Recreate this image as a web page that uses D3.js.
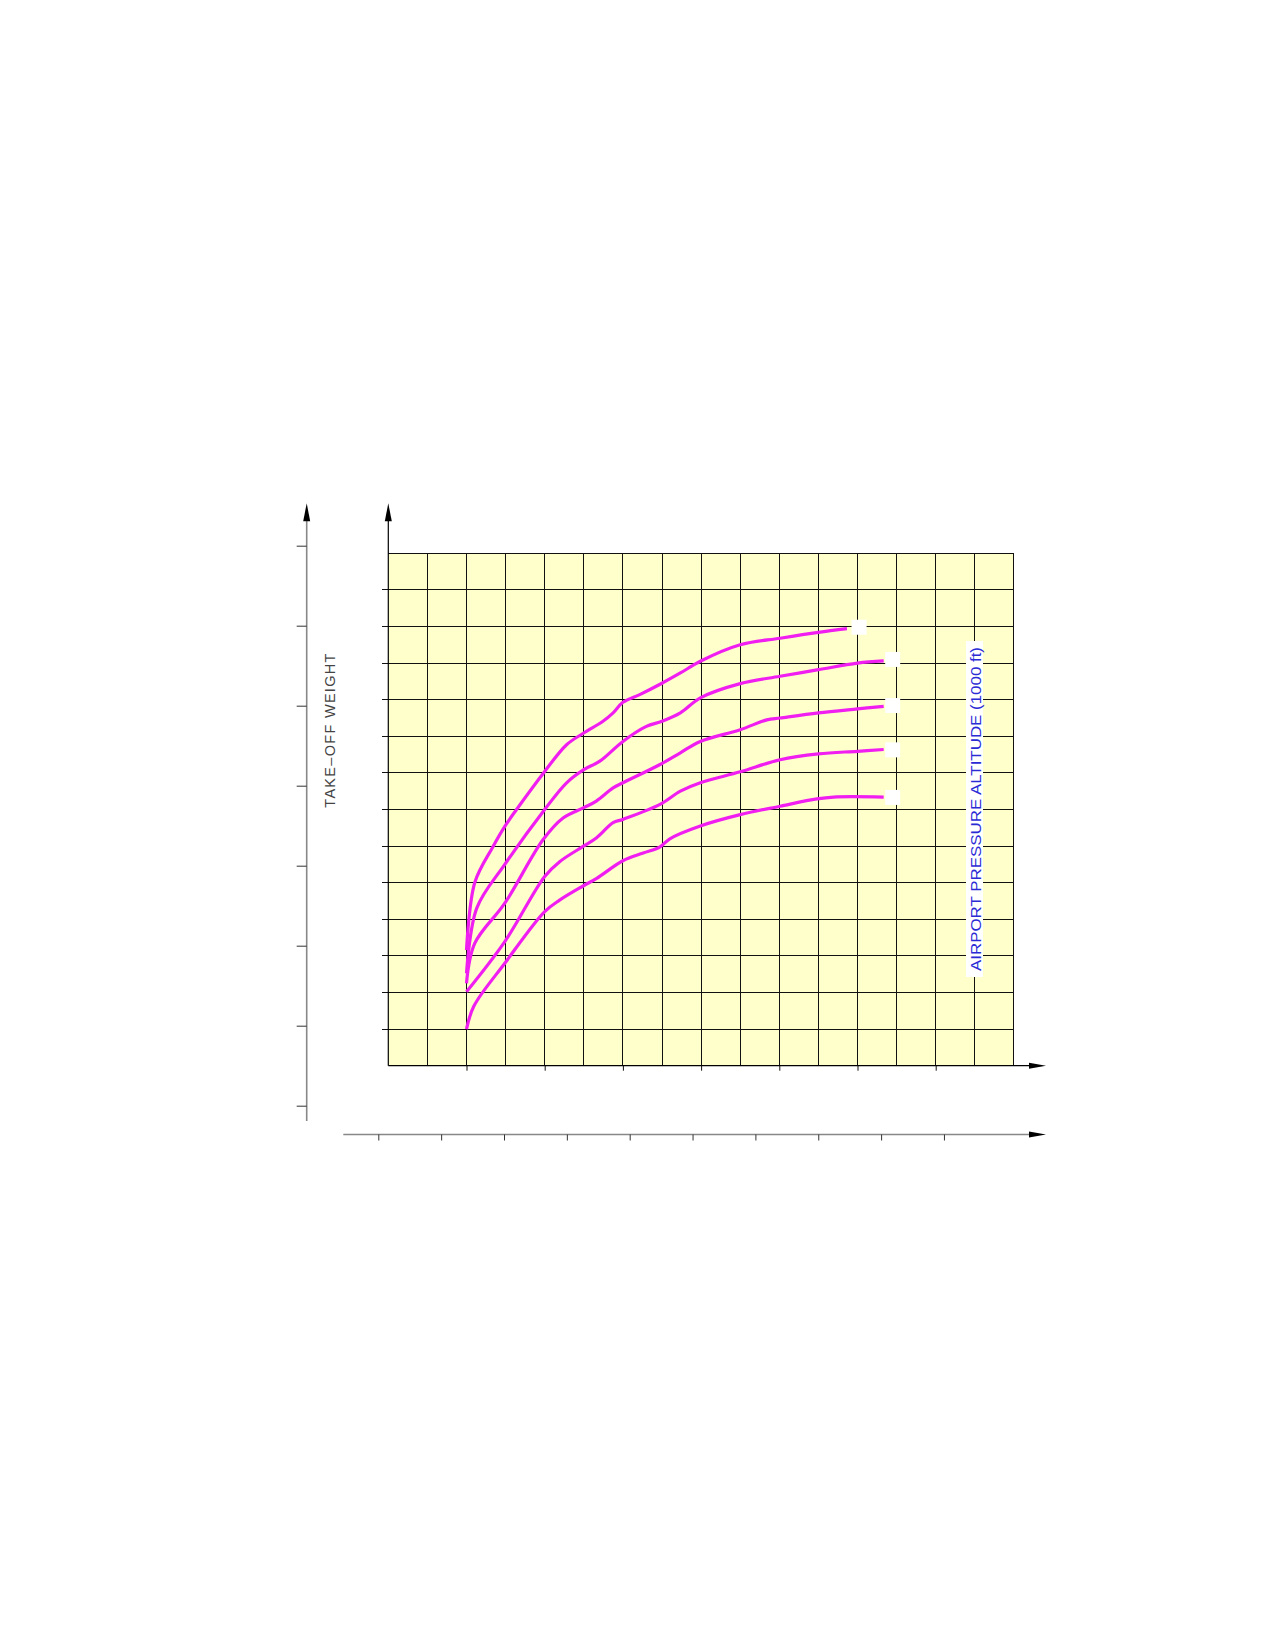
<!DOCTYPE html>
<html>
<head>
<meta charset="utf-8">
<script src="https://cdn.jsdelivr.net/npm/d3@7"></script>
<style>
  body { margin: 0; background: #fff; }
  svg { display: block; }
</style>
</head>
<body>
<script>
// curves, in grid units (x = columns from left, y = rows from bottom)
const altitude0 = [[2.0,3.16],[2.21,5.0],[2.68,5.99],[2.98,6.54],[3.28,7.0],[4.0,8.04],[4.56,8.77],[5.0,9.09],[5.49,9.41],[5.75,9.64],[6.0,9.93],[6.43,10.14],[7.0,10.45],[7.47,10.73],[7.98,11.05],[9.0,11.5],[10.02,11.68],[11.0,11.84],[11.73,11.94]];
const altitude2 = [[2.0,2.52],[2.26,4.3],[2.98,5.5],[4.0,7.0],[4.56,7.73],[5.0,8.09],[5.41,8.32],[6.0,8.86],[6.6,9.27],[7.0,9.41],[7.47,9.64],[7.98,10.05],[9.0,10.44],[10.02,10.64],[11.0,10.82],[12.0,11.0],[12.67,11.06]];
const altitude4 = [[2.0,2.25],[2.21,3.34],[2.98,4.44],[3.96,6.18],[4.47,6.77],[5.0,7.05],[5.32,7.23],[5.75,7.59],[6.0,7.73],[6.95,8.23],[7.47,8.55],[7.98,8.86],[9.0,9.18],[9.68,9.45],[10.02,9.5],[11.0,9.64],[12.0,9.75],[12.67,9.82]];
const altitude6 = [[2.0,2.02],[2.98,3.39],[4.0,5.17],[4.39,5.58],[4.98,5.99],[5.32,6.22],[5.75,6.64],[6.0,6.73],[6.95,7.14],[7.47,7.5],[7.98,7.73],[9.0,8.03],[10.02,8.36],[11.0,8.52],[12.0,8.59],[12.67,8.64]];
const altitude8 = [[2.0,1.0],[2.19,1.63],[2.98,2.8],[4.0,4.21],[4.39,4.53],[4.98,4.91],[5.33,5.12],[6.0,5.6],[6.52,5.81],[6.94,5.97],[7.2,6.2],[7.98,6.55],[9.0,6.86],[10.02,7.09],[10.96,7.29],[11.39,7.34],[12.67,7.34]];
const curves = [altitude0, altitude2, altitude4, altitude6, altitude8];

// blank end markers (label boxes) at the end of each curve
const markerX = [12.04, 12.9, 12.9, 12.9, 12.9];
const markerY = [11.98, 11.1, 9.84, 8.63, 7.33];

const gridCols = 16;
const gridRows = 14;
const bottomTicks = [2, 4, 6, 8, 10, 12, 14];
const weightTicks = [1, 2, 3, 4, 5, 6, 7, 8];
const lowerTicks = [1, 2, 3, 4, 5, 6, 7, 8, 9, 10];
const weightLabel = "TAKE–OFF WEIGHT";
const altLabel = "AIRPORT PRESSURE ALTITUDE (1000 ft)";

const svg = d3.select("body").append("svg")
  .attr("width", 1275).attr("height", 1645);

const x = d3.scaleLinear().domain([0, gridCols]).range([388.3, 1013.9]);
const y = d3.scaleLinear().domain([0, gridRows]).range([1065.7, 553.3]);
const yOuter = d3.scaleLinear().domain([0, 8]).range([1185.7, 545.7]);
const xLower = d3.scaleLinear().domain([0, 10]).range([315.45, 943.95]);

function arrowUp(g, cx, tip) {
  g.append("path").attr("d", `M${cx},${tip} L${cx-3.5},${tip+18} L${cx+3.5},${tip+18} Z`).attr("fill", "#000");
}
function arrowRight(g, tip, cy) {
  g.append("path").attr("d", `M${tip},${cy} L${tip-17},${cy-3} L${tip-17},${cy+3} Z`).attr("fill", "#000");
}

// grid background
svg.append("rect")
  .attr("x", x(0)).attr("y", y(gridRows))
  .attr("width", x(gridCols) - x(0)).attr("height", y(0) - y(gridRows))
  .attr("fill", "#ffffcc");

// grid lines
const grid = svg.append("g").attr("stroke", "#111").attr("stroke-width", 1).attr("shape-rendering", "crispEdges");
grid.selectAll(".v").data(d3.range(1, gridCols + 1)).enter().append("line")
  .attr("x1", d => x(d)).attr("x2", d => x(d))
  .attr("y1", y(0)).attr("y2", y(gridRows));
grid.selectAll(".h").data(d3.range(1, gridRows + 1)).enter().append("line")
  .attr("x1", d => d == gridRows ? x(0) : x(0) - 6).attr("x2", x(gridCols))
  .attr("y1", d => y(d)).attr("y2", d => y(d));

// bottom ticks under the grid
svg.append("g")
  .attr("transform", `translate(0,${y(0)})`)
  .call(d3.axisBottom(x).tickValues(bottomTicks).tickSize(5).tickFormat(""))
  .call(g => g.select(".domain").remove())
  .call(g => g.selectAll("line").attr("stroke", "#111"));

// inner axes
const inner = svg.append("g");
inner.append("line").attr("x1", x(0)).attr("x2", x(0)).attr("y1", y(0)).attr("y2", 515)
  .attr("stroke", "#000").attr("stroke-width", 1.2);
arrowUp(inner, x(0), 503.3);
inner.append("line").attr("x1", x(0)).attr("x2", 1032).attr("y1", y(0)).attr("y2", y(0))
  .attr("stroke", "#000").attr("stroke-width", 1.2);
arrowRight(inner, 1046, y(0));

// outer weight axis
const outer = svg.append("g");
outer.append("line").attr("x1", 306.7).attr("x2", 306.7).attr("y1", 1121).attr("y2", 515)
  .attr("stroke", "#888").attr("stroke-width", 1.6);
outer.append("g")
  .attr("transform", "translate(306.7,0)")
  .call(d3.axisLeft(yOuter).tickValues(weightTicks).tickSize(10).tickFormat(""))
  .call(g => g.select(".domain").remove())
  .call(g => g.selectAll("line").attr("stroke", "#333"));
arrowUp(outer, 306.7, 503.3);

// lower axis
const lower = svg.append("g");
lower.append("line").attr("x1", 343.3).attr("x2", 1032).attr("y1", 1134.5).attr("y2", 1134.5)
  .attr("stroke", "#888").attr("stroke-width", 1.6);
lower.append("g")
  .attr("transform", "translate(0,1134.5)")
  .call(d3.axisBottom(xLower).tickValues(lowerTicks).tickSize(6).tickFormat(""))
  .call(g => g.select(".domain").remove())
  .call(g => g.selectAll("line").attr("stroke", "#333"));
arrowRight(lower, 1046, 1134.5);

// curves
const line = d3.line().x(d => x(d[0])).y(d => y(d[1])).curve(d3.curveCatmullRom.alpha(0.5));
svg.append("g").selectAll("path").data(curves).enter().append("path")
  .attr("d", line)
  .attr("fill", "none")
  .attr("stroke", "#f01ef0")
  .attr("stroke-width", 3.2)
  .attr("stroke-linejoin", "round");

// end markers
svg.append("g").selectAll("rect").data(markerX).enter().append("rect")
  .attr("x", d => x(d) - 7.5)
  .attr("y", (d, i) => y(markerY[i]) - 7.5)
  .attr("width", 15).attr("height", 15)
  .attr("fill", "#fff");

// labels
svg.append("text")
  .attr("transform", "translate(335,730) rotate(-90)")
  .attr("text-anchor", "middle")
  .attr("font-family", "Liberation Sans, Arial, sans-serif")
  .attr("font-size", 14.5)
  .attr("letter-spacing", 1.3)
  .attr("fill", "#444")
  .text(weightLabel);

const altBox = svg.append("g").attr("transform", "translate(975,809) rotate(-90)");
altBox.append("rect")
  .attr("x", -168).attr("y", -9).attr("width", 336).attr("height", 17)
  .attr("fill", "#fff");
altBox.append("text")
  .attr("text-anchor", "middle")
  .attr("y", 5.5)
  .attr("font-family", "Liberation Sans, Arial, sans-serif")
  .attr("font-size", 15.5)
  .attr("textLength", 324)
  .attr("lengthAdjust", "spacingAndGlyphs")
  .attr("fill", "#2b2bd6")
  .text(altLabel);
</script>
</body>
</html>
